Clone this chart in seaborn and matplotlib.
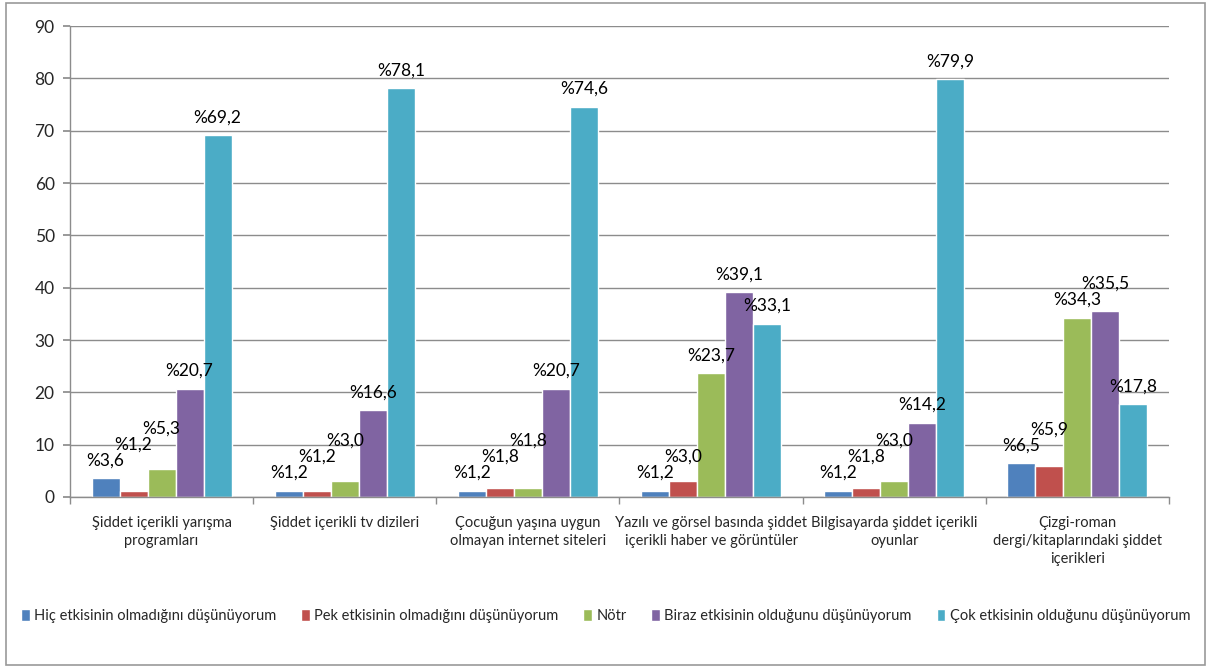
import matplotlib
matplotlib.use("Agg")
import matplotlib.pyplot as plt
import seaborn as sns
import pandas as pd
from matplotlib.patches import Rectangle

categories = [
    "Şiddet içerikli yarışma\nprogramları",
    "Şiddet içerikli tv dizileri",
    "Çocuğun yaşına uygun\nolmayan internet siteleri",
    "Yazılı ve görsel basında şiddet\niçerikli haber ve görüntüler",
    "Bilgisayarda şiddet içerikli\noyunlar",
    "Çizgi-roman\ndergi/kitaplarındaki şiddet\niçerikleri",
]
series_names = [
    "Hiç etkisinin olmadığını düşünüyorum",
    "Pek etkisinin olmadığını düşünüyorum",
    "Nötr",
    "Biraz etkisinin olduğunu düşünüyorum",
    "Çok etkisinin olduğunu düşünüyorum",
]
hic = [3.6, 1.2, 1.2, 1.2, 1.2, 6.5]
pek = [1.2, 1.2, 1.8, 3.0, 1.8, 5.9]
notr = [5.3, 3.0, 1.8, 23.7, 3.0, 34.3]
biraz = [20.7, 16.6, 20.7, 39.1, 14.2, 35.5]
cok = [69.2, 78.1, 74.6, 33.1, 79.9, 17.8]
y_ticks = [0, 10, 20, 30, 40, 50, 60, 70, 80, 90]

colors = ["#4F81BD", "#C0504D", "#9BBB59", "#8064A2", "#4BACC6"]

rows = []
for name, vals in zip(series_names, [hic, pek, notr, biraz, cok]):
    for c, v in zip(categories, vals):
        rows.append({"cat": c, "series": name, "value": v})
df = pd.DataFrame(rows)

sns.set_theme(style="white")
plt.rcParams['font.family'] = ['Lato', 'DejaVu Sans']

fig = plt.figure(figsize=(12.11, 6.68), dpi=100)
ax = fig.add_axes([0.0578, 0.256, 0.9075, 0.705])

sns.barplot(data=df, x="cat", y="value", hue="series", order=categories,
            hue_order=series_names, palette=colors, width=0.765,
            saturation=1, ax=ax, errorbar=None, legend=True)

ax.set_ylim(0, 90)
ax.set_yticks(y_ticks)
ax.set_xlim(-0.5, len(categories) - 0.5)

# data labels, lifted where they would collide with a neighbour (Excel-like)
fig.canvas.draw()
renderer = fig.canvas.get_renderer()
n_groups = len(categories)
placed = {g: [] for g in range(n_groups)}
for cont in ax.containers:
    for g, bar in enumerate(cont):
        h = bar.get_height()
        lift = 7
        txt = ax.annotate(f"%{h:.1f}".replace(".", ","),
                          (bar.get_x() + bar.get_width() / 2, h),
                          xytext=(0, lift), textcoords="offset points",
                          ha="center", va="bottom", fontsize=12.5, color="black")
        for _ in range(8):
            bb = txt.get_window_extent(renderer)
            clash = None
            for ob in placed[g]:
                if bb.x0 < ob.x1 - 1 and bb.x1 > ob.x0 + 1 and bb.y0 < ob.y1 - 1 and bb.y1 > ob.y0 + 1:
                    clash = ob
                    break
            if clash is None:
                break
            lift += (clash.y1 - bb.y0) * 72 / fig.dpi
            txt.xyann = (0, lift)
        placed[g].append(txt.get_window_extent(renderer))

ax.yaxis.grid(True, color="#8c8c8c", linewidth=1)
ax.set_axisbelow(True)
for s in ["top", "right"]:
    ax.spines[s].set_visible(False)
for s in ["left", "bottom"]:
    ax.spines[s].set_color("#8c8c8c")
    ax.spines[s].set_linewidth(1)
ax.set_xlabel("")
ax.set_ylabel("")
ax.tick_params(axis="y", left=True, length=5, color="#8c8c8c", labelsize=12.5, pad=6)
ax.tick_params(axis="x", bottom=False, labelsize=10.5, pad=8)
ax.set_xticks([i - 0.5 for i in range(len(categories) + 1)], minor=True)
ax.tick_params(axis="x", which="minor", bottom=True, length=5, color="#8c8c8c")
for lab in ax.get_xticklabels():
    lab.set_linespacing(1.35)

leg = ax.legend(loc="center", bbox_to_anchor=(0.5, 0.078), bbox_transform=fig.transFigure,
                ncol=5, frameon=False, fontsize=10.5,
                handlelength=0.6, handleheight=0.9,
                handletextpad=0.3, columnspacing=1.7)

fig.patches.append(Rectangle((0.005, 0.005), 0.99, 0.99, transform=fig.transFigure,
                             fill=False, edgecolor="#999999", linewidth=1.2))

fig.savefig("out.png", dpi=100)
